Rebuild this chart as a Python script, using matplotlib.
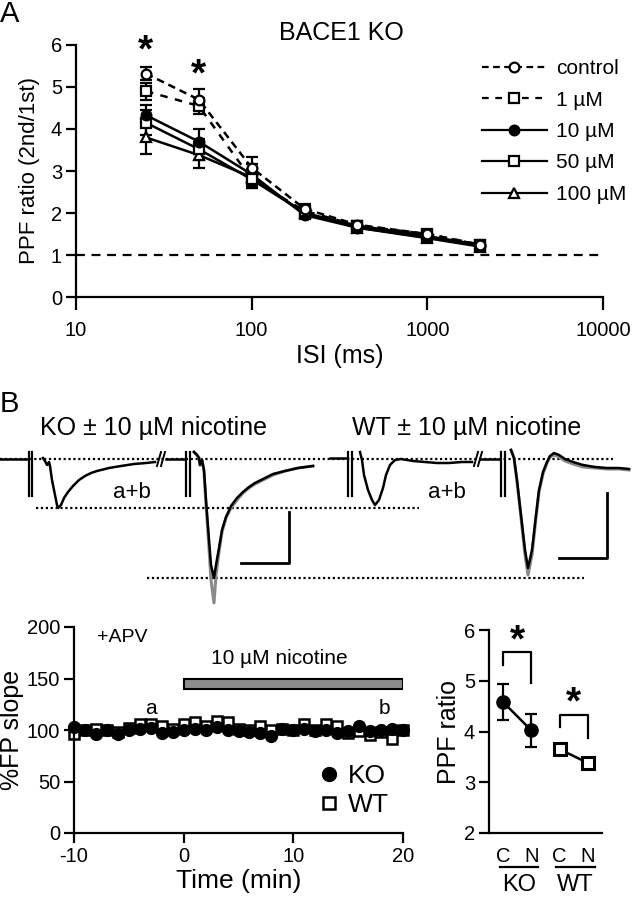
import numpy as np
import matplotlib
matplotlib.use("Agg")
import matplotlib.pyplot as plt
from matplotlib.lines import Line2D
from matplotlib.ticker import NullLocator, FixedLocator

plt.rcParams['font.family'] = ['Liberation Sans', 'DejaVu Sans']
plt.rcParams['axes.linewidth'] = 1.6
plt.rcParams['xtick.major.width'] = 1.6
plt.rcParams['ytick.major.width'] = 1.6
plt.rcParams['axes.unicode_minus'] = False

# ---- panel A: PPF vs ISI ----
isi = [25, 50, 100, 200, 400, 1000, 2000]
ppf_control = [5.32, 4.70, 3.08, 2.10, 1.72, 1.50, 1.24]
err_control = [0.15, 0.25, 0.25, 0.12, 0.08, 0.08, 0.06]
ppf_1uM = [4.90, 4.55, 2.80, 2.05, 1.70, 1.50, 1.25]
err_1uM = [0.20, 0.20, 0.20, 0.12, 0.08, 0.08, 0.06]
ppf_10uM = [4.33, 3.70, 2.92, 1.95, 1.65, 1.42, 1.22]
err_10uM = [0.25, 0.30, 0.25, 0.10, 0.08, 0.08, 0.06]
ppf_50uM = [4.15, 3.52, 2.80, 2.00, 1.70, 1.45, 1.24]
err_50uM = [0.30, 0.25, 0.20, 0.10, 0.08, 0.08, 0.06]
ppf_100uM = [3.80, 3.38, 2.85, 2.00, 1.65, 1.40, 1.20]
err_100uM = [0.40, 0.30, 0.20, 0.10, 0.08, 0.08, 0.06]
sig_isi = [25, 50]
sig_y = [5.85, 5.28]

# ---- panel B: time course ----
time_min = list(range(-10, 21))
slope_ko = [103, 100, 96, 100, 96, 100, 101, 102, 97, 98, 100, 101, 100, 103, 100, 99,
            98, 97, 94, 101, 100, 101, 99, 100, 97, 99, 104, 99, 100, 101, 100]
slope_wt = [96, 100, 101, 100, 98, 102, 106, 106, 104, 101, 106, 108, 104, 109, 108, 101,
            100, 104, 100, 101, 100, 106, 100, 106, 104, 97, 99, 95, 98, 91, 100]
nic_start, nic_end = 0, 20
nic_low, nic_high = 140, 150

# ---- panel B: PPF summary ----
ko_pos = [1, 2]
ko_ppf = [4.58, 4.02]
ko_err = [0.35, 0.33]
wt_pos = [3, 4]
wt_ppf = [3.65, 3.38]
wt_err = [0.07, 0.07]
cond_labels = ['C', 'N', 'C', 'N']

# ---- example traces (in figure pixel units) ----
ko1_x = [0, 27]
ko1_y = [459, 459]
ko1b_x = [43, 45, 47, 49, 50, 52, 55, 57, 58, 61, 64, 68, 73, 79, 85, 91, 97, 109, 121, 134, 146, 155]
ko1b_y = [458, 461, 465, 462, 466, 480, 495, 505, 508, 505, 498, 492, 486, 480, 476, 473, 471, 468, 466, 464, 463, 462]
ko2a_x = [166, 184]
ko2a_y = [459, 459]
ko2_x = [194, 197, 199, 200, 202, 204, 206, 209, 211, 214, 216, 219, 222, 226, 231, 237, 243, 249, 255, 265, 273, 285, 298, 313]
ko2_y = [452, 455, 458, 465, 460, 470, 500, 540, 565, 578, 565, 548, 530, 517, 506, 498, 492, 487, 483, 478, 474, 471, 468, 466]
ko2_grey_y = [452, 455, 458, 465, 460, 472, 505, 548, 580, 603, 575, 552, 532, 518, 508, 500, 493, 488, 484, 479, 475, 471, 468, 466]
wt1a_x = [330, 346]
wt1a_y = [458, 458]
wt1_x = [360, 362, 364, 368, 372, 375, 379, 383, 386, 390, 395, 401, 413, 425, 437, 449, 462, 472]
wt1_y = [452, 460, 475, 490, 500, 505, 500, 488, 475, 465, 460, 459, 461, 462, 463, 463, 462, 462]
wt2a_x = [480, 499]
wt2a_y = [459, 459]
wt2_x = [511, 514, 517, 521, 525, 528, 532, 536, 539, 543, 547, 550, 554, 559, 565, 573, 583, 595, 607, 619, 629]
wt2_y = [450, 458, 480, 515, 550, 568, 550, 515, 490, 472, 462, 456, 453, 455, 459, 462, 465, 467, 468, 468, 469]
wt2_grey_y = [450, 458, 482, 518, 555, 575, 555, 518, 492, 474, 463, 457, 455, 457, 461, 464, 467, 468, 469, 469, 470]
artifact_x = [28.5, 32, 186, 189.5, 348, 351.5, 501, 504.5]
artifact_top, artifact_bottom = 452, 496
break_x = [157, 161, 474, 478]
ref_lines = [(0, 613, 459), (36, 419, 508), (147, 584, 578)]
scale_bars = [(241, 289, 563, 512), (559, 607, 558, 493)]

W, H = 635, 900
fig = plt.figure(figsize=(6.35, 9.0), dpi=100)


def px_axes(l, t, r, b):
    return fig.add_axes([l / W, 1 - b / H, (r - l) / W, (b - t) / H])


def fig_text(x, y, s, **kw):
    fig.text(x / W, 1 - y / H, s, **kw)


def style(ax):
    ax.spines['top'].set_visible(False)
    ax.spines['right'].set_visible(False)
    ax.tick_params(direction='out', length=7, labelsize=14.5, pad=3)


# ================= A =================
ax = px_axes(76, 45, 603, 297)
style(ax)
ax.set_xscale('log')
ax.set_xlim(10, 10000)
ax.set_ylim(0, 6)
ax.xaxis.set_major_locator(FixedLocator([10, 100, 1000, 10000]))
ax.xaxis.set_minor_locator(NullLocator())
ax.set_xticklabels(['10', '100', '1000', '10000'])
ax.tick_params(axis='x', length=9, pad=8)
ax.set_yticks(range(7))
ax.axhline(1, color='black', lw=1.6, ls=(0, (4, 3)))

series = [
    (ppf_control, err_control, 'o', 'white', (0, (3, 2)), 'control'),
    (ppf_1uM, err_1uM, 's', 'white', (0, (3, 3)), '1 µM'),
    (ppf_10uM, err_10uM, 'o', 'black', '-', '10 µM'),
    (ppf_50uM, err_50uM, 's', 'white', '-', '50 µM'),
    (ppf_100uM, err_100uM, '^', 'white', '-', '100 µM'),
]
handles = []
for vals, errs, mk, fc, ls, lab in reversed(series):
    ax.errorbar(isi, vals, yerr=errs, fmt='none', ecolor='black', elinewidth=1.6,
                capsize=4, capthick=1.6, zorder=2)
    ax.plot(isi, vals, ls=ls, color='black', lw=1.8, marker=mk, ms=7,
            mfc=fc, mec='black', mew=1.6, zorder=3)
for vals, errs, mk, fc, ls, lab in series:
    handles.append(Line2D([], [], ls=ls, color='black', lw=1.6, marker=mk, ms=7,
                          mfc=fc, mec='black', mew=1.6, label=lab))
for xs, ys in zip(sig_isi, sig_y):
    ax.text(xs, ys, '*', ha='center', va='center', fontsize=28, fontweight='bold',
            clip_on=False)
ax.legend(handles=handles, loc='upper left', bbox_to_anchor=(482 / W, 1 - 59 / H),
          bbox_transform=fig.transFigure, frameon=False, fontsize=15, handlelength=3.1,
          handletextpad=0.45, labelspacing=0.6, borderpad=0, borderaxespad=0)
ax.set_xlabel('ISI (ms)', fontsize=18, labelpad=3)
ax.set_ylabel('PPF ratio (2nd/1st)', fontsize=16, labelpad=8)
fig_text(341, 33, 'BACE1 KO', ha='center', va='center', fontsize=18)
fig_text(0, 14, 'A', fontsize=21, va='center', ha='left')

# ================= B traces =================
fig_text(0, 404, 'B', fontsize=21, va='center', ha='left')
fig_text(40, 428, 'KO ± 10 µM nicotine', fontsize=18, va='center', ha='left')
fig_text(352, 428, 'WT ± 10 µM nicotine', fontsize=18, va='center', ha='left')

tx = fig.add_axes([0, 0, 1, 1], zorder=-1)
tx.set_xlim(0, W)
tx.set_ylim(H, 0)
tx.axis('off')
for x0, x1, y in ref_lines:
    tx.plot([x0, x1], [y, y], color='black', lw=1.6, ls=(0, (1, 1.2)))
tx.plot(ko2_x, ko2_grey_y, color='#8a8a8a', lw=2.2)
tx.plot(wt2_x, wt2_grey_y, color='#8a8a8a', lw=2.2)
for xs, ys in [(ko1_x, ko1_y), (ko1b_x, ko1b_y), (ko2a_x, ko2a_y), (ko2_x, ko2_y),
               (wt1a_x, wt1a_y), (wt1_x, wt1_y), (wt2a_x, wt2a_y), (wt2_x, wt2_y)]:
    tx.plot(xs, ys, color='black', lw=1.8)
for xa in artifact_x:
    tx.plot([xa, xa], [artifact_top, artifact_bottom], color='black', lw=1.6)
for xb in break_x:
    tx.plot([xb, xb + 4], [466, 452], color='black', lw=1.4)
for x0, x1, yb, yt in scale_bars:
    tx.plot([x0, x1, x1], [yb, yb, yt], color='black', lw=2)
tx.text(132, 492, 'a+b', fontsize=16, ha='center', va='center')
tx.text(447, 492, 'a+b', fontsize=16, ha='center', va='center')

# ================= B time course =================
bx = px_axes(74, 627, 403, 833)
style(bx)
bx.set_xlim(-10, 20)
bx.set_ylim(0, 200)
bx.set_xticks([-10, 0, 10, 20])
bx.set_yticks([0, 50, 100, 150, 200])
bx.barh((nic_low + nic_high) / 2, nic_end - nic_start, left=nic_start,
        height=nic_high - nic_low, color='#8c8c8c', edgecolor='black', lw=1.5)
bx.plot(time_min, slope_wt, 's', ms=7.5, mfc='white', mec='black', mew=1.8,
        clip_on=False)
bx.plot(time_min, slope_ko, 'o', ms=8.5, mfc='black', mec='black', clip_on=False)
bx.text(8.7, 169, '10 µM nicotine', fontsize=15, ha='center', va='center')
bx.text(-7.9, 190, '+APV', fontsize=14, ha='left', va='center')
bx.text(-3, 121, 'a', fontsize=15, ha='center', va='center')
bx.text(18.3, 121, 'b', fontsize=15, ha='center', va='center')
bx.set_xlabel('Time (min)', fontsize=19, labelpad=2)
bx.set_ylabel('%FP slope', fontsize=18, labelpad=2)
bx.legend(handles=[Line2D([], [], ls='none', marker='o', ms=10, mfc='black', mec='black',
                          label='KO'),
                   Line2D([], [], ls='none', marker='s', ms=8.5, mfc='white', mec='black',
                          mew=1.8, label='WT')],
          loc='upper left', bbox_to_anchor=(318 / W, 1 - 764 / H),
          bbox_transform=fig.transFigure, frameon=False, fontsize=19,
          handlelength=0.8, handletextpad=0.35, labelspacing=0.2, borderpad=0,
          borderaxespad=0)

# ================= B PPF summary =================
cx = px_axes(489, 630, 602, 833)
style(cx)
cx.set_xlim(0.5, 4.5)
cx.set_ylim(2, 6)
cx.set_yticks([2, 3, 4, 5, 6])
cx.set_xticks(ko_pos + wt_pos)
cx.set_xticklabels(cond_labels)
cx.tick_params(axis='x', length=0, pad=10)
cx.errorbar(ko_pos, ko_ppf, yerr=ko_err, color='black', lw=1.8, marker='o', ms=9.5,
            mfc='black', capsize=4, capthick=1.6, elinewidth=1.6)
cx.errorbar(wt_pos, wt_ppf, yerr=wt_err, color='black', lw=1.8, marker='s', ms=8,
            mfc='white', mec='black', mew=2.2, capsize=3, capthick=1.6, elinewidth=1.6)
cx.set_ylabel('PPF ratio', fontsize=18, labelpad=2)
# significance brackets
for (x0, x1), top, l0, l1, ys in [((1, 2), 5.57, 5.31, 4.95, 5.77),
                                  ((3, 4), 4.32, 4.09, 3.87, 4.56)]:
    cx.plot([x0, x0, x1, x1], [l0, top, top, l1], color='black', lw=1.6)
    cx.text((x0 + x1) / 2, ys, '*', fontsize=28, fontweight='bold', ha='center',
            va='center')
# group underlines and names
for (x0, x1), name in [((ko_pos[0], ko_pos[1]), 'KO'), ((wt_pos[0], wt_pos[1]), 'WT')]:
    cx.plot([x0 - 0.12, x1 + 0.24], [1.33, 1.33], color='black', lw=1.6, clip_on=False)
    cx.text((x0 + x1) / 2 + 0.05, 0.98, name, fontsize=17, ha='center', va='center')

fig.savefig('out.png', dpi=100)
